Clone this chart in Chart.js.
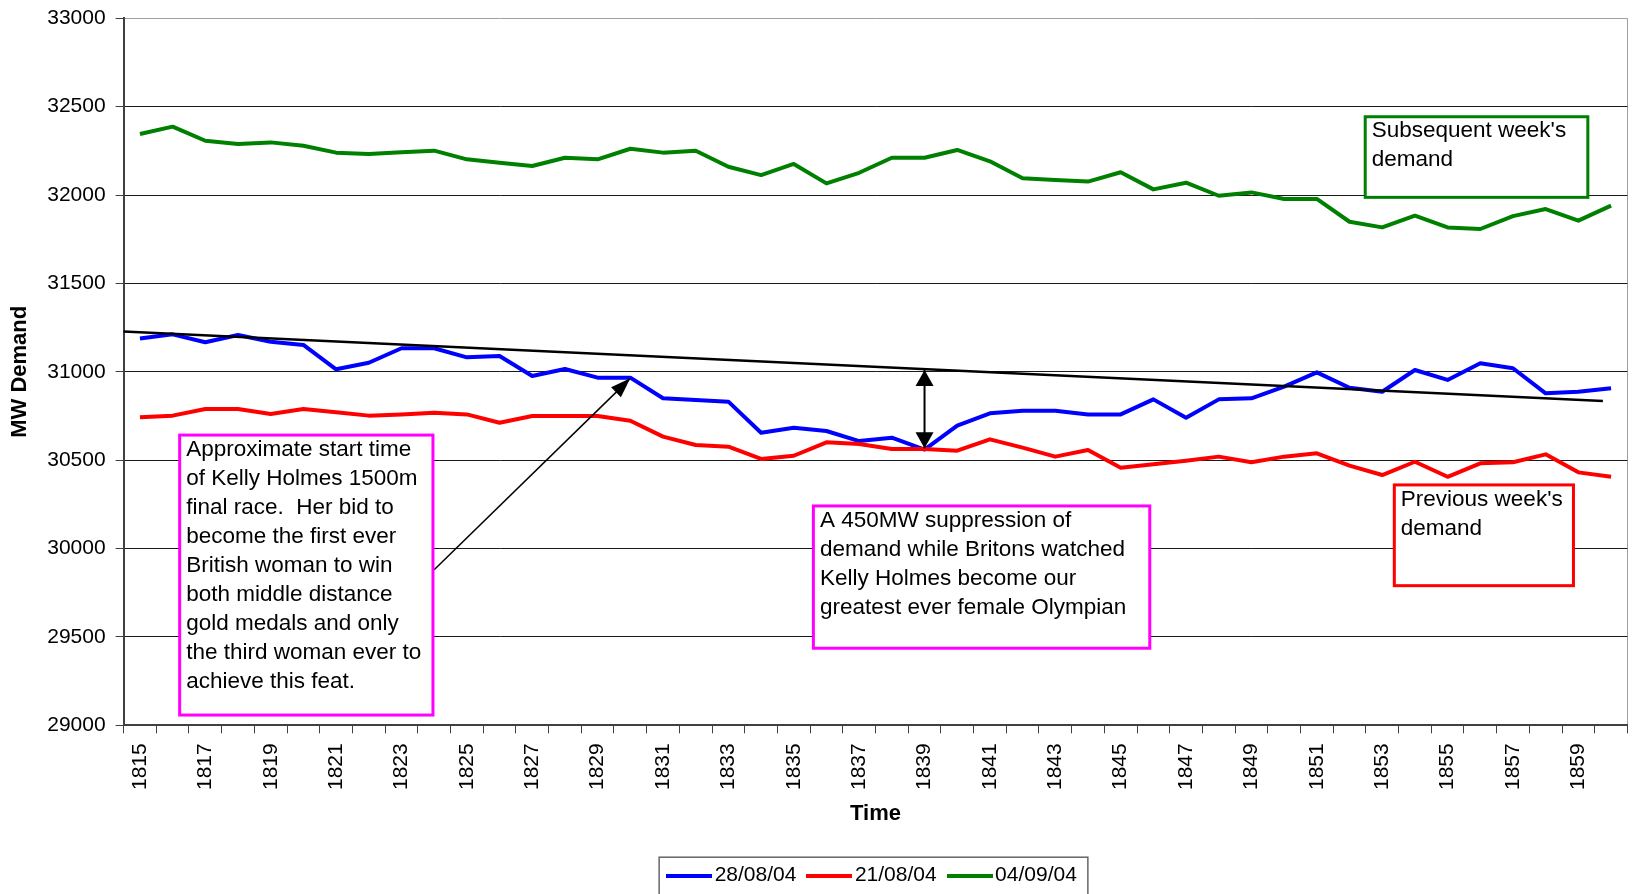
<!DOCTYPE html>
<html>
<head>
<meta charset="utf-8">
<title>MW demand - Kelly Holmes 1500m final</title>
<script src="https://cdn.jsdelivr.net/npm/chart.js@4.4.1/dist/chart.umd.min.js"></script>
<style>
  html, body { margin: 0; padding: 0; background: #fff; }
  #wrap { width: 1632px; height: 894px; }
</style>
</head>
<body>
<div id="wrap"><canvas id="myChart" width="1632" height="894"></canvas></div>
<script>
'use strict';
const times = [
  1815, 1816, 1817, 1818, 1819, 1820, 1821, 1822, 1823, 1824,
  1825, 1826, 1827, 1828, 1829, 1830, 1831, 1832, 1833, 1834,
  1835, 1836, 1837, 1838, 1839, 1840, 1841, 1842, 1843, 1844,
  1845, 1846, 1847, 1848, 1849, 1850, 1851, 1852, 1853, 1854,
  1855, 1856, 1857, 1858, 1859, 1900,
];
const demand280804 = [
  31189, 31212, 31167, 31208, 31170, 31152, 31014, 31051, 31133, 31133,
  31082, 31089, 30976, 31016, 30967, 30967, 30850, 30840, 30831, 30655,
  30684, 30665, 30608, 30627, 30560, 30695, 30765, 30780, 30780, 30759,
  30759, 30844, 30740, 30844, 30850, 30916, 30997, 30910, 30887, 31010,
  30954, 31048, 31020, 30878, 30887, 30907,
];
const demand210804 = [
  30743, 30752, 30790, 30790, 30761, 30790, 30771, 30752, 30759, 30769,
  30759, 30712, 30750, 30750, 30750, 30723, 30633, 30586, 30576, 30507,
  30525, 30601, 30591, 30563, 30563, 30554, 30618, 30571, 30520, 30558,
  30457, 30477, 30497, 30520, 30488, 30520, 30539, 30469, 30416, 30491,
  30406, 30482, 30488, 30533, 30431, 30406,
];
const demand040904 = [
  32345, 32387, 32307, 32289, 32298, 32279, 32240, 32232, 32242, 32251,
  32202, 32183, 32164, 32211, 32202, 32262, 32240, 32251, 32160, 32113,
  32176, 32066, 32126, 32211, 32211, 32255, 32191, 32095, 32085, 32076,
  32129, 32032, 32070, 31996, 32015, 31978, 31978, 31849, 31817, 31883,
  31817, 31808, 31881, 31921, 31855, 31940,
];
const seriesNames = ['28/08/04', '21/08/04', '04/09/04'];
const seriesColors = ['#0000ff', '#ff0000', '#008000'];
const yMin = 29000;
const yMax = 33000;
const yStep = 500;

// notes drawn on top: corners given as [category index, MW]
const notes = [
  {
    from: [1.215, 30642], to: [8.963, 29058], color: '#ff00ff',
    lines: ['Approximate start time', 'of Kelly Holmes 1500m', 'final race.  Her bid to',
      'become the first ever', 'British woman to win', 'both middle distance',
      'gold medals and only', 'the third woman ever to', 'achieve this feat.'],
  },
  {
    from: [20.6, 30241], to: [30.89, 29436], color: '#ff00ff',
    lines: ['A 450MW suppression of', 'demand while Britons watched',
      'Kelly Holmes become our', 'greatest ever female Olympian'],
  },
  { from: [37.48, 32443], to: [44.29, 31987], color: '#008000', lines: ['Subsequent week\'s', 'demand'] },
  { from: [38.37, 30360], to: [43.85, 29790], color: '#ff0000', lines: ['Previous week\'s', 'demand'] },
];
const trendLine = { from: [-0.5, 31228], to: [44.75, 30835] };
const arrows = [
  { from: [9, 29880], to: [15, 30963], width: 1.5, len: 20, half: 7, both: false },
  { from: [24, 30567], to: [24, 31010], width: 2, len: 16, half: 9, both: true },
];

const fontFamily = "'Liberation Sans', Arial, sans-serif";
Chart.defaults.font.family = fontFamily;
Chart.defaults.color = '#000';

// short thick swatch used as the legend key
function keyLine(color) {
  const c = document.createElement('canvas');
  c.width = 46;
  c.height = 4;
  const g = c.getContext('2d');
  g.fillStyle = color;
  g.fillRect(0, 0, 46, 4);
  return c;
}

function arrowHead(ctx, tip, tail, len, half) {
  const a = Math.atan2(tip[1] - tail[1], tip[0] - tail[0]);
  const bx = tip[0] - len * Math.cos(a);
  const by = tip[1] - len * Math.sin(a);
  ctx.beginPath();
  ctx.moveTo(tip[0], tip[1]);
  ctx.lineTo(bx + half * Math.sin(a), by - half * Math.cos(a));
  ctx.lineTo(bx - half * Math.sin(a), by + half * Math.cos(a));
  ctx.closePath();
  ctx.fill();
}

const annotate = {
  id: 'annotate',
  afterLayout(chart) {
    // legend sits centred under the plot, not the whole canvas
    const lg = chart.legend;
    const area = chart.chartArea;
    lg.left = area.left;
    lg.right = area.right;
    lg.width = area.right - area.left;
  },
  afterDatasetsDraw(chart) {
    const ctx = chart.ctx;
    const xs = chart.scales.x;
    const ys = chart.scales.y;
    const px = p => [xs.getPixelForValue(p[0]), ys.getPixelForValue(p[1])];
    ctx.save();

    let a = px(trendLine.from);
    let b = px(trendLine.to);
    ctx.strokeStyle = '#000';
    ctx.lineWidth = 2.5;
    ctx.beginPath();
    ctx.moveTo(a[0], a[1]);
    ctx.lineTo(b[0], b[1]);
    ctx.stroke();

    ctx.fillStyle = '#000';
    for (const ar of arrows) {
      a = px(ar.from);
      b = px(ar.to);
      ctx.lineWidth = ar.width;
      ctx.beginPath();
      ctx.moveTo(a[0], a[1]);
      ctx.lineTo(b[0], b[1]);
      ctx.stroke();
      arrowHead(ctx, b, a, ar.len, ar.half);
      if (ar.both) arrowHead(ctx, a, b, ar.len, ar.half);
    }

    ctx.font = '22.5px ' + fontFamily;
    ctx.textBaseline = 'middle';
    ctx.textAlign = 'left';
    for (const n of notes) {
      a = px(n.from);
      b = px(n.to);
      ctx.fillStyle = '#fff';
      ctx.fillRect(a[0], a[1], b[0] - a[0], b[1] - a[1]);
      ctx.strokeStyle = n.color;
      ctx.lineWidth = 3;
      ctx.strokeRect(a[0], a[1], b[0] - a[0], b[1] - a[1]);
      ctx.fillStyle = '#000';
      n.lines.forEach((t, i) => ctx.fillText(t, a[0] + 6.5, a[1] + 14.5 + i * 29));
    }
    ctx.restore();
  },
  afterDraw(chart) {
    // frame round the legend, open at the bottom edge as in the original
    const hb = chart.legend.legendHitBoxes;
    if (!hb || !hb.length) return;
    const first = hb[0];
    const last = hb[hb.length - 1];
    const ctx = chart.ctx;
    ctx.save();
    ctx.strokeStyle = '#666';
    ctx.lineWidth = 1.5;
    const x0 = first.left - 15;
    const y0 = first.top + first.height / 2 - 18.5;
    ctx.strokeRect(x0, y0, last.left + last.width + 11 - x0, 80);
    ctx.restore();
  },
};

const ctx = document.getElementById('myChart').getContext('2d');
const chart = new Chart(ctx, {
  type: 'line',
  data: {
    labels: times.map(String),
    datasets: [
      {
        label: seriesNames[0], data: demand280804, order: 2,
        borderColor: seriesColors[0], backgroundColor: seriesColors[0],
        pointStyle: keyLine(seriesColors[0]),
      },
      {
        label: seriesNames[1], data: demand210804, order: 1,
        borderColor: seriesColors[1], backgroundColor: seriesColors[1],
        pointStyle: keyLine(seriesColors[1]),
      },
      {
        label: seriesNames[2], data: demand040904, order: 0,
        borderColor: seriesColors[2], backgroundColor: seriesColors[2],
        pointStyle: keyLine(seriesColors[2]),
      },
    ],
  },
  options: {
    responsive: false,
    animation: false,
    devicePixelRatio: 1,
    layout: { padding: { top: 18.3, right: 4.6, bottom: -2.2, left: 0 } },
    elements: {
      line: { borderWidth: 4, tension: 0, borderJoinStyle: 'round', fill: false },
      point: { radius: 0, hoverRadius: 0 },
    },
    scales: {
      x: {
        offset: true,
        grid: {
          offset: true,
          drawOnChartArea: true,
          // only the closing right-hand edge of the plot is drawn
          color: c => (c.type === 'tick' ? 'rgba(0,0,0,0)' : '#a0a0a0'),
          tickColor: '#404040',
          tickLength: 8,
        },
        border: { color: '#404040', width: 2 },
        ticks: {
          autoSkip: false,
          minRotation: 90,
          maxRotation: 90,
          padding: 10,
          font: { size: 21 },
          color: '#000',
          callback: (v, i) => (i % 2 === 0 ? String(times[i]) : ''),
        },
        title: {
          display: true, text: 'Time', color: '#000',
          font: { size: 22, weight: 'bold' },
          padding: { top: 0, bottom: 20.2 },
        },
        afterFit: s => {
          s.height = 121.9;
          s.paddingLeft = 0;
          s.paddingRight = 0;
        },
      },
      y: {
        min: yMin,
        max: yMax,
        ticks: {
          stepSize: yStep,
          padding: 10,
          font: { size: 21 },
          color: '#000',
          callback: v => String(v),
        },
        grid: {
          color: c => (c.tick && c.tick.value === yMax ? '#a0a0a0' : '#1a1a1a'),
          tickColor: '#404040',
          tickLength: 8,
        },
        border: { color: '#404040', width: 2 },
        title: {
          display: true, text: 'MW Demand', color: '#000',
          font: { size: 22, weight: 'bold' },
          padding: { top: 7, bottom: 0 },
        },
        afterFit: s => {
          s.width = 123.6;
          s.paddingTop = 0;
          s.paddingBottom = 0;
        },
      },
    },
    plugins: {
      tooltip: { enabled: false },
      legend: {
        position: 'bottom',
        labels: {
          usePointStyle: true,
          pointStyleWidth: 30,
          padding: 18,
          color: '#000',
          font: { size: 21 },
          sort: (a, b) => a.datasetIndex - b.datasetIndex,
        },
      },
    },
  },
  plugins: [annotate],
});
</script>
</body>
</html>
